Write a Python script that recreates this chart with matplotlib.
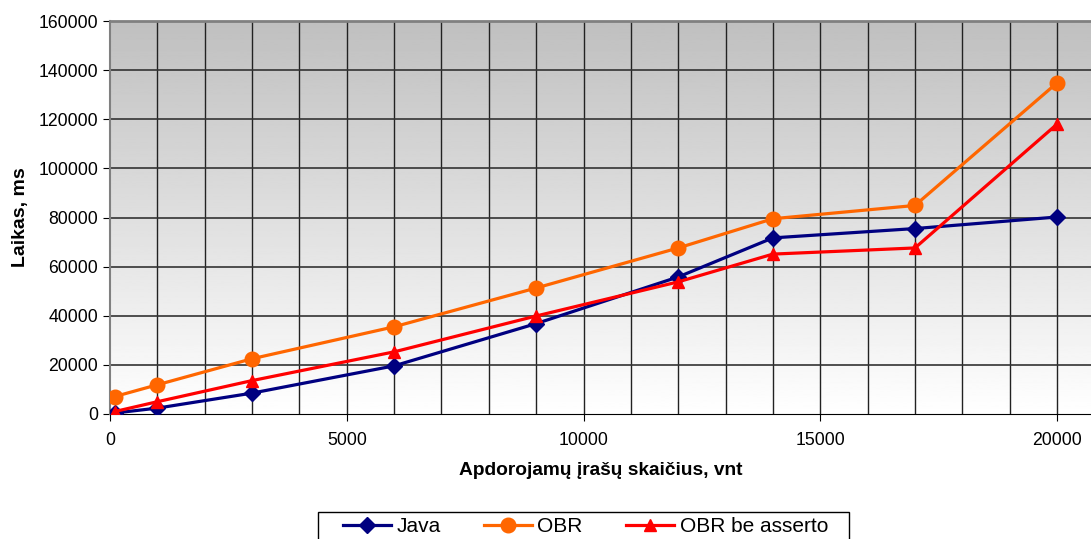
import matplotlib.pyplot as plt
import numpy as np
from matplotlib.patches import Rectangle

plt.rcParams['font.family'] = ['Liberation Sans', 'DejaVu Sans']

# data
records = [100, 1000, 3000, 6000, 9000, 12000, 14000, 17000, 20000]
java = [400, 2400, 8500, 19600, 36800, 55800, 71700, 75500, 80200]
obr = [7100, 11900, 22500, 35500, 51300, 67600, 79500, 84900, 134800]
obr_no_assert = [1000, 5000, 13600, 25300, 39900, 53800, 65100, 67600, 118000]
y_ticks = [0, 20000, 40000, 60000, 80000, 100000, 120000, 140000, 160000]
x_ticks = [0, 5000, 10000, 15000, 20000]

W, H = 1091, 539
fig = plt.figure(figsize=(W/100, H/100), dpi=100)
ax = fig.add_axes([110/W, 1-414/H, 1-110/W, (414-21)/H])

xmax = 20000 * (W-110) / (1057-110)
ax.set_xlim(0, xmax)
ax.set_ylim(0, 160000)

# gradient background, gray on top to white at bottom
grad = np.linspace(1.0, 0.75, 256).reshape(-1, 1)
ax.imshow(grad, extent=[0, xmax, 0, 160000], origin='lower', aspect='auto',
          cmap='gray', vmin=0, vmax=1, zorder=0)

# grid
for gx in range(1000, 21000, 1000):
    ax.axvline(gx, color='#222222', lw=1, zorder=1)
for gy in y_ticks[1:-1]:
    ax.axhline(gy, color='#333333', lw=1.2, zorder=1)

ax.plot(records, java, color='#000080', lw=2.3, marker='D', ms=8.5, label='Java', zorder=3)
ax.plot(records, obr, color='#FF6600', lw=2.3, marker='o', ms=10.5, label='OBR', zorder=3)
ax.plot(records, obr_no_assert, color='#FF0000', lw=2.3, marker='^', ms=9, label='OBR be asserto', zorder=4)

ax.set_xticks(x_ticks)
ax.set_yticks(y_ticks)
ax.set_yticklabels([str(v) for v in y_ticks])
ax.tick_params(axis='both', labelsize=12.7, direction='out', length=5, color='black')
ax.tick_params(axis='x', pad=8)

ax.spines['right'].set_visible(False)
ax.spines['top'].set_color('#808080')
ax.spines['top'].set_linewidth(2)
ax.spines['left'].set_color('#808080')
ax.spines['left'].set_linewidth(1.5)
ax.spines['bottom'].set_color('black')

ax.set_xlabel('Apdorojamų įrašų skaičius, vnt', fontsize=13.8, fontweight='bold', labelpad=9)
ax.set_ylabel('Laikas, ms', fontsize=14, fontweight='bold', labelpad=7)

# legend frame drawn by hand, legend items placed inside it
fig.patches.append(Rectangle((318/W, -0.05), (849-318)/W, (H-512)/H + 0.05,
                             transform=fig.transFigure, facecolor='white',
                             edgecolor='black', lw=1, zorder=0))
fig.legend(loc='upper left', bbox_to_anchor=(343/W, 1-517/H),
           ncol=3, fontsize=15, frameon=False, handlelength=2.3, borderaxespad=0,
           borderpad=0, handletextpad=0.25, columnspacing=2.1)

fig.savefig('out.png', dpi=100)
